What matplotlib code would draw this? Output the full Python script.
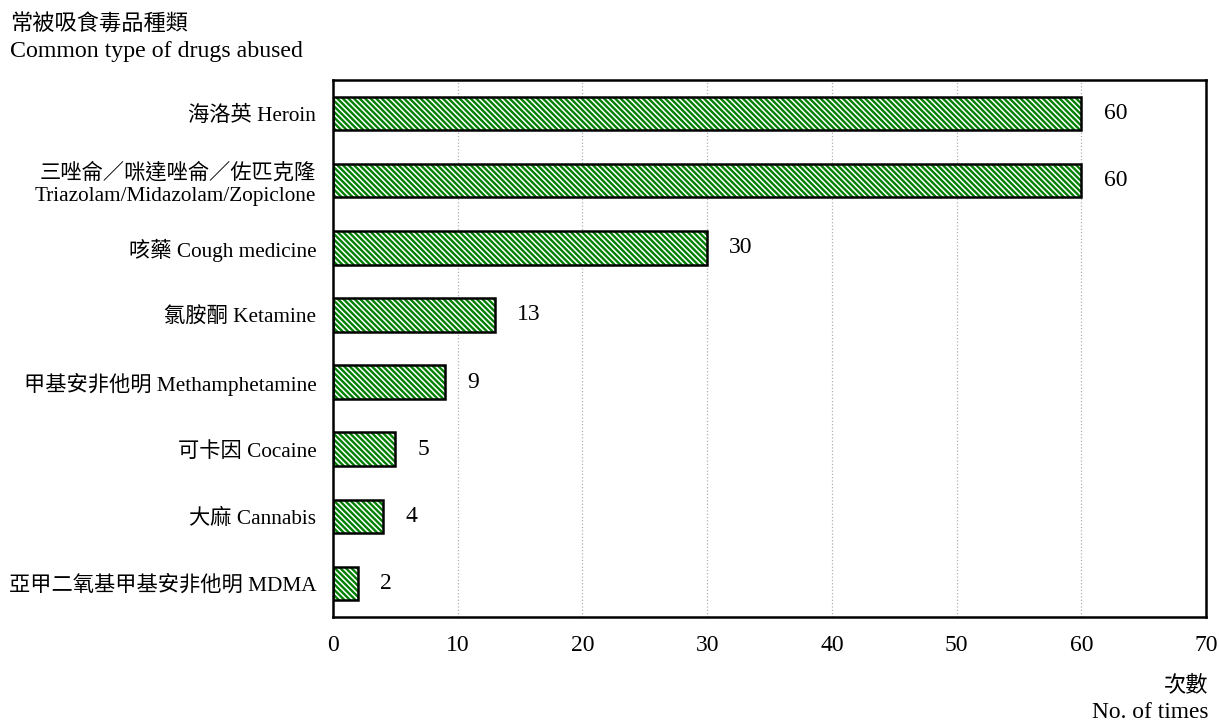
import numpy as np
import matplotlib.pyplot as plt

plt.rcParams['font.family'] = ['Liberation Serif', 'Noto Sans CJK TC']
plt.rcParams['hatch.linewidth'] = 1.7

drugs = ['海洛英 Heroin',
         '三唑侖／咪達唑侖／佐匹克隆\nTriazolam/Midazolam/Zopiclone',
         '咳藥 Cough medicine',
         '氯胺酮 Ketamine',
         '甲基安非他明 Methamphetamine',
         '可卡因 Cocaine',
         '大麻 Cannabis',
         '亞甲二氧基甲基安非他明 MDMA']
times = [60, 60, 30, 13, 9, 5, 4, 2]
xticks = [0, 10, 20, 30, 40, 50, 60, 70]

GREEN = '#008000'
DPI = 100
fig = plt.figure(figsize=(12.19, 7.24), dpi=DPI)
ax = fig.add_axes([333/1219, 1 - 617/724, 873/1219, 537/724])

ypos = np.arange(len(drugs))
# hatch pass (hatch colour follows edge colour) then a black outline pass
ax.barh(ypos, times, height=0.5, color='white', edgecolor=GREEN,
        hatch='\\' * 6, linewidth=0, zorder=3)
ax.barh(ypos, times, height=0.5, fill=False, edgecolor='black',
        linewidth=1.8, zorder=4)

for y, v in zip(ypos, times):
    ax.annotate(str(v), (v, y), xytext=(16, 0), textcoords='offset points',
                ha='left', va='center', fontsize=17)

ax.set_xlim(0, 70)
ax.set_ylim(len(drugs) - 0.5, -0.5)
ax.set_xticks(xticks)
ax.set_yticks(ypos)
ax.set_yticklabels(drugs, fontsize=15.3, linespacing=1.25)
ax.tick_params(axis='x', length=0, pad=13, labelsize=17)
ax.tick_params(axis='y', length=0, pad=12)
ax.xaxis.grid(True, color='#b0b0b0', linestyle=':', linewidth=0.9, zorder=0)
ax.set_axisbelow(True)
for sp in ax.spines.values():
    sp.set_linewidth(1.8)
    sp.set_zorder(5)

fig.text(10/1219, 1 - 25/724, '常被吸食毒品種類', fontsize=16, ha='left', va='center')
fig.text(10/1219, 1 - 51/724, 'Common type of drugs abused', fontsize=17.2,
         ha='left', va='center')
fig.text(1208/1219, 1 - 686/724, '次數', fontsize=16, ha='right', va='center')
fig.text(1208/1219, 1 - 712/724, 'No. of times', fontsize=16.8, ha='right',
         va='center')

fig.savefig('out.png', dpi=DPI)
